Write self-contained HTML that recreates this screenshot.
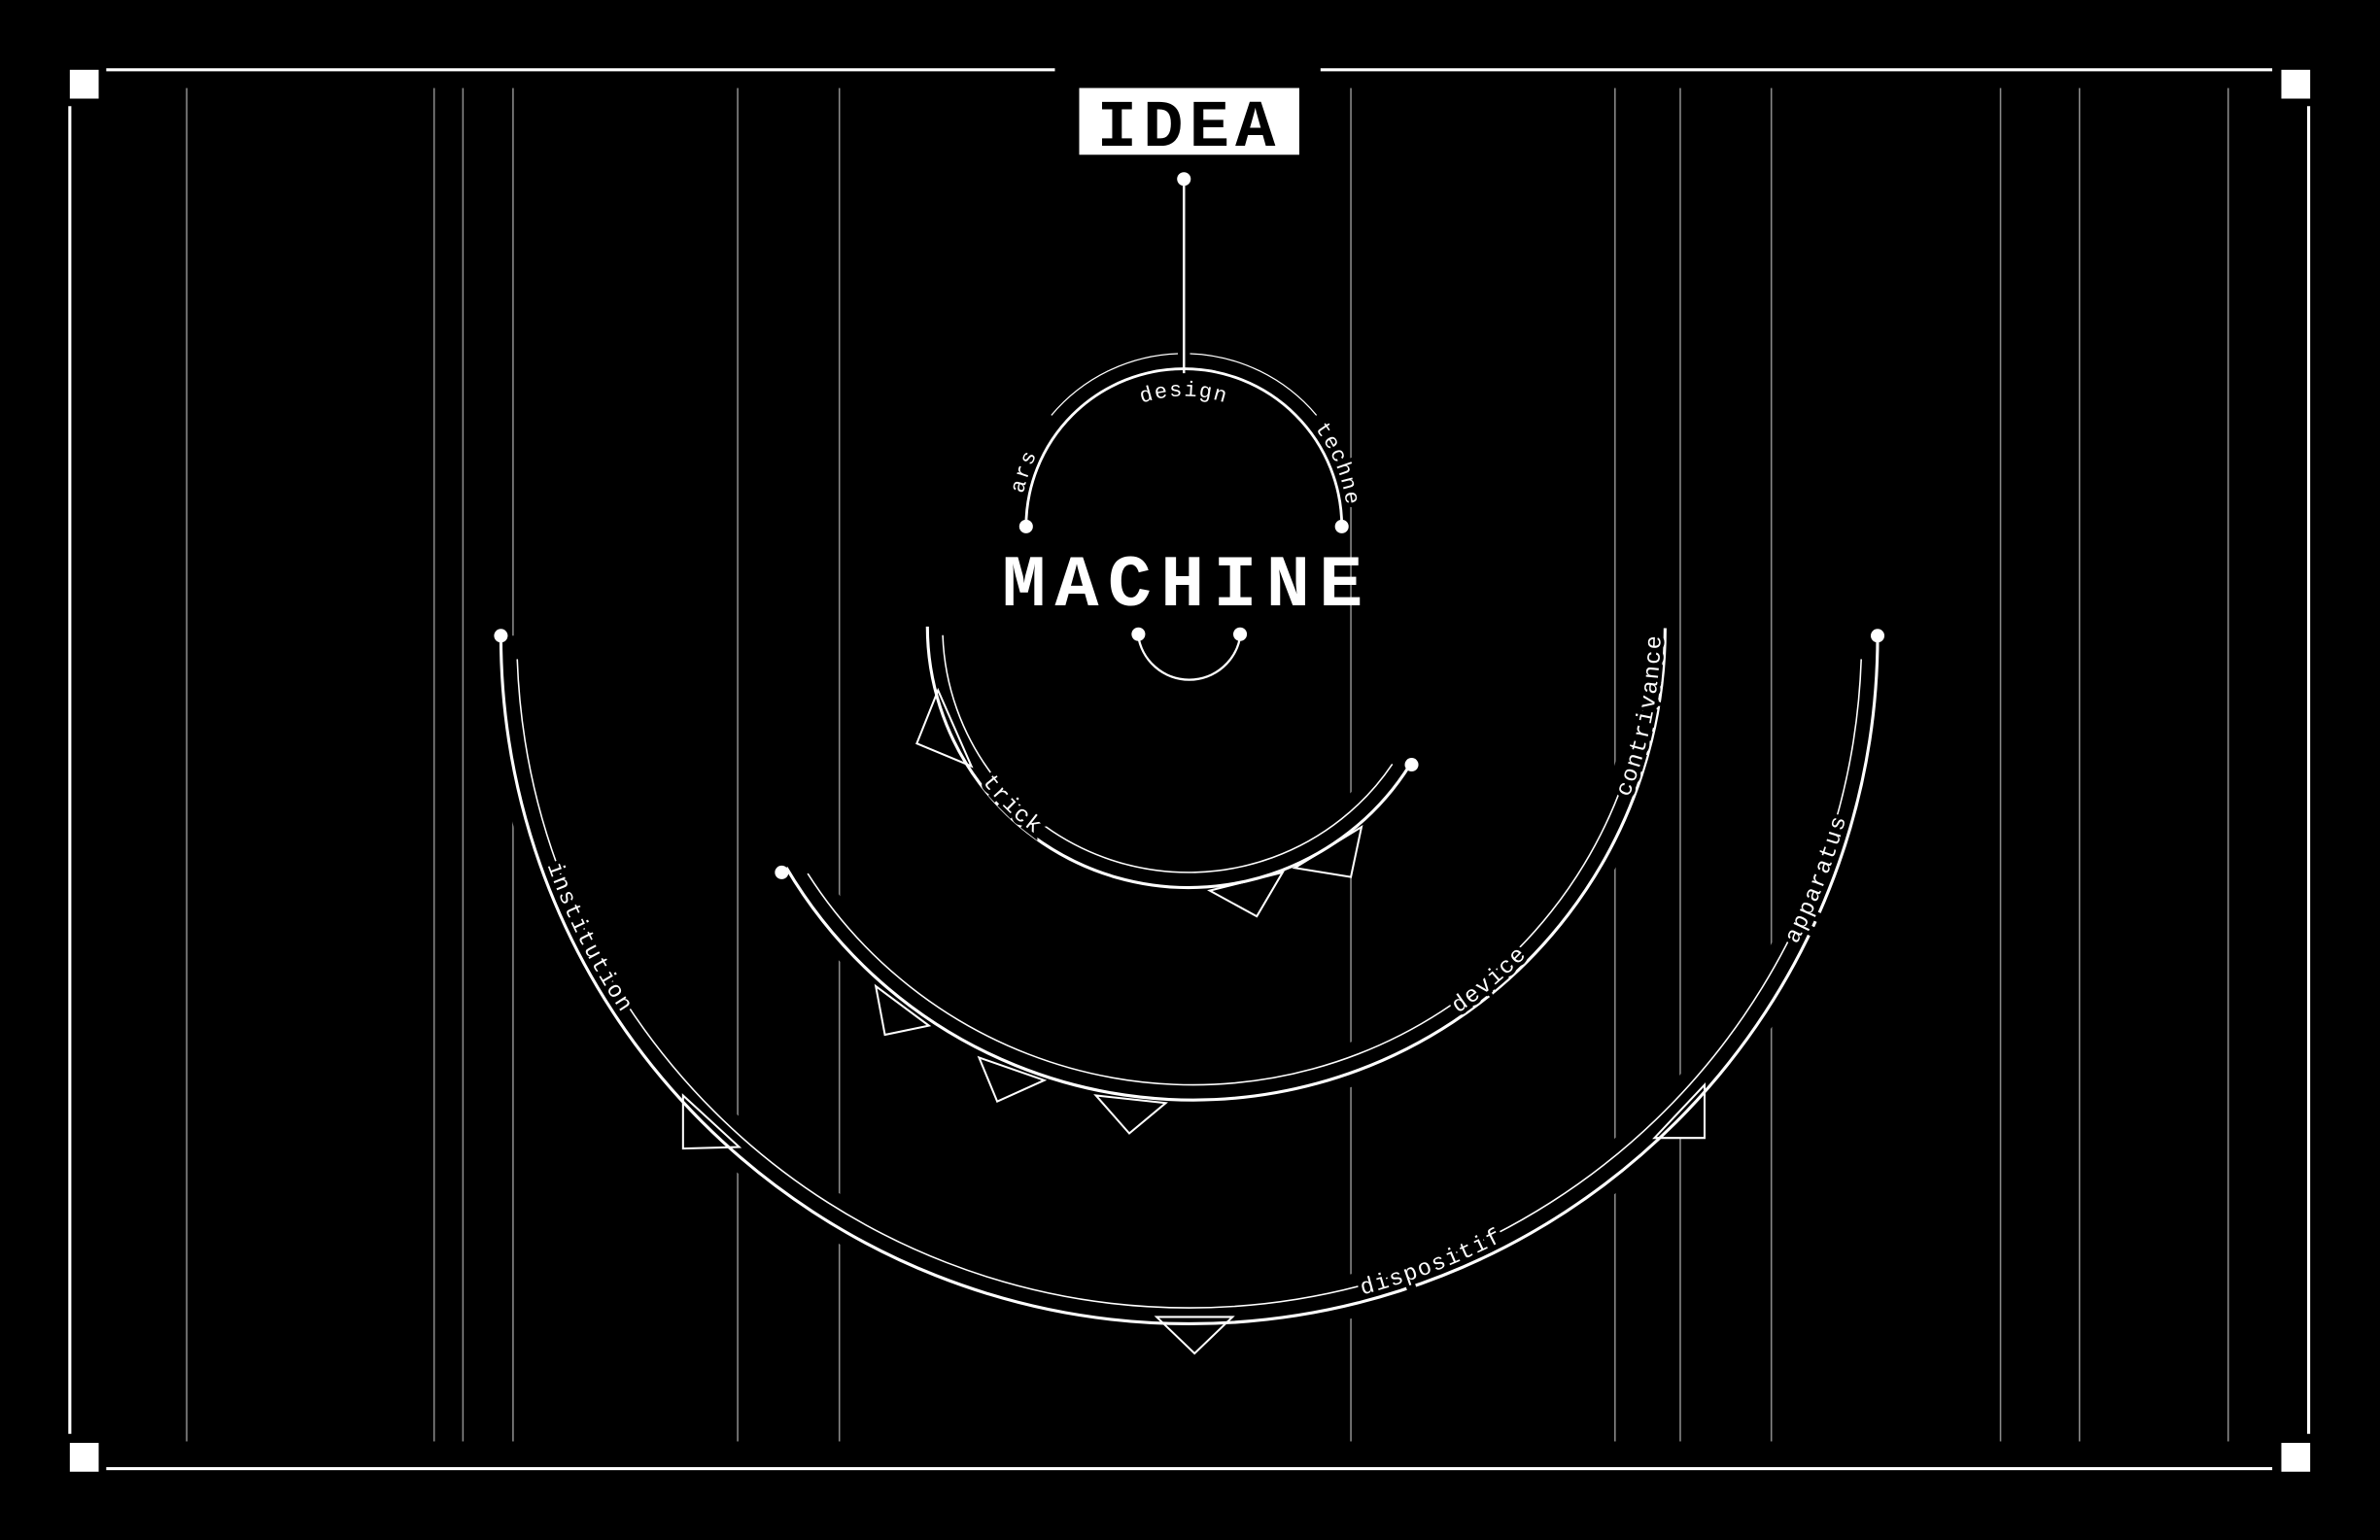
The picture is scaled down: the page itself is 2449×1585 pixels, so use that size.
<!DOCTYPE html>
<html><head><meta charset="utf-8"><style>
html,body{margin:0;padding:0;background:#000;width:2449px;height:1585px;overflow:hidden}
svg{display:block}
text{font-family:"Liberation Mono","DejaVu Sans Mono",monospace;fill:#fff}
</style></head><body>
<svg id="c" width="2449" height="1585" viewBox="0 0 1568 1015" preserveAspectRatio="none" xmlns="http://www.w3.org/2000/svg">
<rect width="1568" height="1015" fill="#000"/>
<g id="vlines"></g>
<g id="frame" fill="#fff" stroke="#fff">
  <line x1="70" y1="46" x2="695" y2="46" stroke-width="2"/>
  <line x1="870" y1="46" x2="1497" y2="46" stroke-width="2"/>
  <line x1="70" y1="968" x2="1497" y2="968" stroke-width="2"/>
  <line x1="46" y1="70" x2="46" y2="945" stroke-width="2"/>
  <line x1="1521" y1="70" x2="1521" y2="945" stroke-width="2"/>
  <rect x="46" y="46" width="19" height="19" stroke="none"/>
  <rect x="1503" y="46" width="19" height="19" stroke="none"/>
  <rect x="46" y="951" width="19" height="19" stroke="none"/>
  <rect x="1503" y="951" width="19" height="19" stroke="none"/>
</g>
<g id="arcs"></g>
<g>
  <rect x="711" y="58" width="145" height="44" fill="#fff"/>
  <text x="783.5" y="96" text-anchor="middle" font-size="44" font-weight="bold" letter-spacing="4" style="fill:#000">IDEA</text>
  <circle cx="780" cy="118" r="4.5" fill="#fff"/>
  <line x1="780" y1="118" x2="780" y2="246" stroke="#fff" stroke-width="1.6"/>
</g>
<text x="782" y="399" text-anchor="middle" font-size="48" font-weight="bold" letter-spacing="6">MACHINE</text>
</svg>
<script>
var NS='http://www.w3.org/2000/svg';
var vxs=[123,286,305,338,486,553,890,1064,1107,1167,1318,1370,1468];
var vg=document.getElementById('vlines');
vxs.forEach(function(x){
  var l=document.createElementNS(NS,'line');
  
  
  l.setAttribute('x1',x);l.setAttribute('x2',x);l.setAttribute('y1',58);l.setAttribute('y2',950);
  l.setAttribute('stroke','#8a8a8a');l.setAttribute('stroke-width','1');
  vg.appendChild(l);
});
var ag=document.getElementById('arcs');
function pt(cx,cy,r,a){var t=a*Math.PI/180;return [cx+r*Math.cos(t),cy+r*Math.sin(t)];}
function arcD(cx,cy,r,a0,a1){
  var p0=pt(cx,cy,r,a0),p1=pt(cx,cy,r,a1);
  var sweep=a1>a0?1:0,large=Math.abs(a1-a0)>180?1:0;
  return 'M'+p0[0].toFixed(2)+' '+p0[1].toFixed(2)+' A'+r+' '+r+' 0 '+large+' '+sweep+' '+p1[0].toFixed(2)+' '+p1[1].toFixed(2);
}
function mk(tag,attrs){var e=document.createElementNS(NS,tag);for(var k in attrs)e.setAttribute(k,attrs[k]);ag.appendChild(e);return e;}
var idc=0;
function label(cx,cy,r,ang,dir,txt,fs,name){
  var id='tp'+(idc++);
  var d=arcD(cx,cy,r,ang-25*dir,ang+25*dir);
  var p=document.createElementNS(NS,'path');p.setAttribute('id',id);p.setAttribute('d',d);p.setAttribute('fill','none');
  ag.appendChild(p);
  var t=document.createElementNS(NS,'text');
  
  
  t.setAttribute('font-size',fs);t.setAttribute('letter-spacing','1');
  var tp=document.createElementNS(NS,'textPath');tp.setAttribute('href','#'+id);tp.setAttribute('startOffset','50%');tp.setAttribute('text-anchor','middle');
  tp.textContent=txt;t.appendChild(tp);
  var h=t.cloneNode(true);h.setAttribute('stroke','#000');h.setAttribute('stroke-width','5');h.style.fill='#000';
  
  ag.appendChild(h);ag.appendChild(t);
}
function halo(cx,cy,r,a0,a1,ri,name){
  var h=mk('path',{d:arcD(cx,cy,(r+ri)/2,a0,a1),fill:'none',stroke:'#000','stroke-width':Math.abs(r-ri)+18});
  
}
function ring(cx,cy,r,a0,a1,ri,name){
  var o=mk('path',{d:arcD(cx,cy,r,a0,a1),fill:'none',stroke:'#fff','stroke-width':2});
  
  
  var i=mk('path',{d:arcD(cx,cy,ri,a0+(a1>a0?2:-2),a1+(a1>a0?-2:2)),fill:'none',stroke:'#fff','stroke-width':1});
  
  
}
function dot(x,y,name){var c=mk('circle',{cx:x,cy:y,r:4.5,fill:'#fff'});}
function tri(pts,name){var p=mk('polygon',{points:pts,fill:'#000',stroke:'#fff','stroke-width':1.3});}

// halos first
halo(783.5,419,453.5,180,0,443,'dispositif-arc');
halo(786,414,311,149.5,0,301,'device-arc');
halo(783,413,172,180,32,162,'trick-arc');

// triangles
tri('604,490 618,455 640,505','trick-tooth-1');
tri('797,587 828,604 845,575','trick-tooth-2');
tri('853,572 890,578 897,545','trick-tooth-3');
tri('577,650 583,682 612,676','device-tooth-1');
tri('645,697 657,726 688,712','device-tooth-2');
tri('722,722 744,747 768,727','device-tooth-3');
tri('450,722 450,757 487,756','outer-tooth-1');
tri('762,868 787,892 812,868','outer-tooth-2');
tri('1123,715 1123,750 1090,750','outer-tooth-3');

// outer arc
ring(783.5,419,453.5,180,0,443,'dispositif-arc');
dot(330,419,'outer-dot-left');dot(1237,419,'outer-dot-right');
label(783.5,419,449,153.3,-1,'institution',15,'label-institution');
label(783.5,419,449,68.9,-1,'dispositif',15,'label-dispositif');
label(783.5,419,449,21.2,-1,'apparatus',15,'label-apparatus');

// device arc
ring(786,414,311,149.5,0,301,'device-arc');
dot(515,575,'device-dot');
label(786,414,308,49.9,-1,'device',15,'label-device');
label(786,414,308,11,-1,'contrivance',15,'label-contrivance');

// trick arc
ring(783,413,172,180,32,162,'trick-arc');
dot(930,504,'trick-dot');
label(783,413,170,134.7,-1,'trick',15,'label-trick');

// top arc
var th=mk('path',{d:arcD(780,347,104,180,360),fill:'none',stroke:'#fff','stroke-width':1.8});


var t2=mk('path',{d:arcD(780,347,114,-140,-92),fill:'none',stroke:'#fff','stroke-width':0.8});

var t3=mk('path',{d:arcD(780,347,114,-88,-40),fill:'none',stroke:'#fff','stroke-width':0.8});

dot(676,347,'top-dot-left');dot(884,347,'top-dot-right');
label(780,347,108,-161,1,'ars',14,'label-ars');
label(780,347,86,-90,1,'design',14,'label-design');
label(780,347,108,-22,1,'techne',14,'label-techne');

// smile
var sm=mk('path',{d:arcD(783.5,414,34,173,7),fill:'none',stroke:'#fff','stroke-width':1.5});


dot(750,418,'smile-dot-left');dot(817,418,'smile-dot-right');
</script>
</body></html>
